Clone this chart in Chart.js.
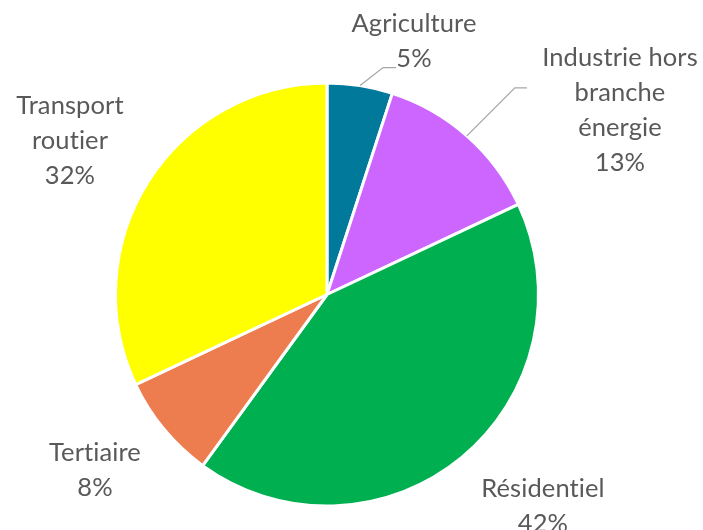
<!DOCTYPE html>
<html>
<head>
<meta charset="utf-8">
<script src="https://cdn.jsdelivr.net/npm/chart.js@4.4.1/dist/chart.umd.min.js"></script>
<style>
html,body{margin:0;padding:0;background:#fff;}
#wrap{width:703px;height:530px;position:relative;}
</style>
</head>
<body>
<div id="wrap"><canvas id="c" width="703" height="530"></canvas></div>
<script>
const categories = ["Agriculture", "Industrie hors branche énergie", "Résidentiel", "Tertiaire", "Transport routier"];
const values = [5, 13, 42, 8, 32];
const labelLines = [
  ["Agriculture", "5%"],
  ["Industrie hors", "branche", "énergie", "13%"],
  ["Résidentiel", "42%"],
  ["Tertiaire", "8%"],
  ["Transport", "routier", "32%"]
];
const colors = ["#00799a", "#cc66ff", "#00b050", "#ed7d4f", "#ffff00"];

// label placement relative to pie centre (pixels), leader line bends
const labelLayout = [
  {dx: 87, dy: -271, leader: [[23, -18], [36, -18]]},
  {dx: 293, dy: -237, leader: [[48, -48], [60, -48]]},
  {dx: 216, dy: 194, leader: null},
  {dx: -232, dy: 158, leader: null},
  {dx: -257, dy: -189, leader: null}
];
const lineHeight = 35;

const labelPlugin = {
  id: 'pieLabels',
  afterDatasetsDraw(chart) {
    const ctx = chart.ctx;
    const meta = chart.getDatasetMeta(0);
    ctx.save();
    meta.data.forEach((arc, i) => {
      const p = arc.getProps(['x', 'y', 'startAngle', 'endAngle', 'outerRadius'], true);
      const lay = labelLayout[i];
      if (lay.leader) {
        const mid = (p.startAngle + p.endAngle) / 2;
        const sx = p.x + Math.cos(mid) * p.outerRadius;
        const sy = p.y + Math.sin(mid) * p.outerRadius;
        ctx.beginPath();
        ctx.strokeStyle = '#a6a6a6';
        ctx.lineWidth = 1.3;
        ctx.moveTo(sx, sy);
        lay.leader.forEach(pt => ctx.lineTo(sx + pt[0], sy + pt[1]));
        ctx.stroke();
      }
      ctx.fillStyle = '#595959';
      ctx.font = '25.5px Lato';
      if ('letterSpacing' in ctx) ctx.letterSpacing = '0.1px';
      ctx.textAlign = 'center';
      ctx.textBaseline = 'middle';
      const lines = labelLines[i];
      const x0 = p.x + lay.dx;
      const y0 = p.y + lay.dy;
      lines.forEach((t, k) => ctx.fillText(t, x0, y0 + k * lineHeight));
    });
    ctx.restore();
  }
};

new Chart(document.getElementById('c'), {
  type: 'pie',
  data: {
    labels: categories,
    datasets: [{
      data: values,
      backgroundColor: colors,
      borderColor: '#ffffff',
      borderWidth: 3
    }]
  },
  options: {
    responsive: false,
    animation: false,
    layout: {padding: {top: 81, bottom: 22, left: 114, right: 163}},
    plugins: {legend: {display: false}, tooltip: {enabled: false}}
  },
  plugins: [labelPlugin]
});
</script>
</body>
</html>
